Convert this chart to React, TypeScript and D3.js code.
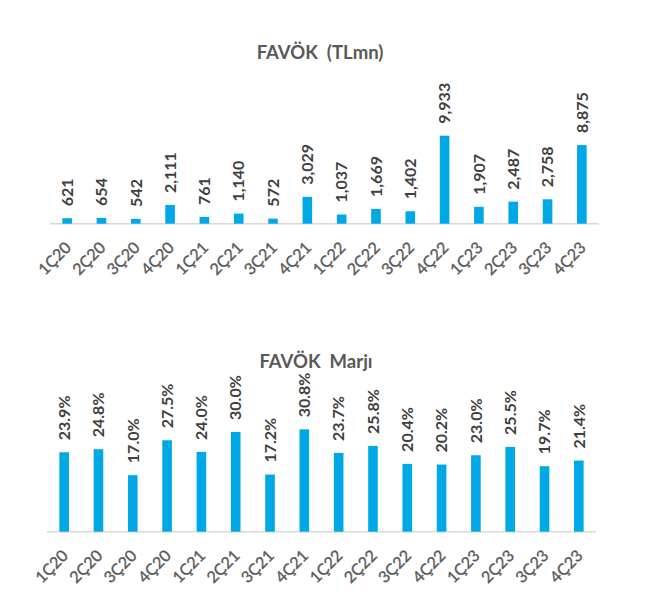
import React from "react";
import * as d3 from "d3";

const quarters = ["1Ç20","2Ç20","3Ç20","4Ç20","1Ç21","2Ç21","3Ç21","4Ç21","1Ç22","2Ç22","3Ç22","4Ç22","1Ç23","2Ç23","3Ç23","4Ç23"];
const favok = [621,654,542,2111,761,1140,572,3029,1037,1669,1402,9933,1907,2487,2758,8875];
const marj = [23.9,24.8,17.0,27.5,24.0,30.0,17.2,30.8,23.7,25.8,20.4,20.2,23.0,25.5,19.7,21.4];
const title1 = "FAVÖK  (TLmn)";
const title2 = "FAVÖK  Marjı";

const BAR = "#00A9E6";
const FONT = "Lato, 'Open Sans', sans-serif";

type PanelProps = {
  values: number[];
  fmt: (v: number) => string;
  x0: number; x1: number; baseY: number; topY: number; maxV: number;
  title: string; titleX: number; titleY: number;
};

function Panel({ values, fmt, x0, x1, baseY, topY, maxV, title, titleX, titleY }: PanelProps) {
  const x = d3.scaleBand<string>().domain(quarters).range([x0, x1]).paddingInner(0.72).paddingOuter(0.36);
  const y = d3.scaleLinear().domain([0, maxV]).range([baseY, topY]);
  const bw = x.bandwidth();
  return (
    <g>
      <text x={titleX} y={titleY} textAnchor="middle" fontFamily={FONT} fontWeight={700} fontSize={18.5} fill="#595959" style={{ whiteSpace: "pre" }}>{title}</text>
      <line x1={x0} x2={x1} y1={baseY} y2={baseY} stroke="#D9D9D9" strokeWidth={1.5} />
      {values.map((v, i) => {
        const q = quarters[i];
        const bx = x(q)!;
        const cx = bx + bw / 2;
        return (
          <g key={q}>
            <rect x={bx} y={y(v)} width={bw} height={baseY - y(v)} fill={BAR} />
            <text transform={`translate(${cx},${y(v) - 12}) rotate(-90)`} dy="0.36em" fontFamily={FONT} fontWeight={700} fontSize={16} fill="#404040">{fmt(v)}</text>
            <text transform={`translate(${cx + 5},${baseY + 25}) rotate(-45)`} textAnchor="end" fontFamily={FONT} fontSize={16} stroke="#595959" strokeWidth={0.35} fill="#595959">{q}</text>
          </g>
        );
      })}
    </g>
  );
}

export default function App() {
  const f1 = d3.format(",");
  const f2 = (v: number) => d3.format(".1f")(v) + "%";
  return (
    <svg width={650} height={615} style={{ position: "absolute", left: 0, top: 0, background: "#fff" }}>
      <rect width={650} height={615} fill="#fff" />
      <Panel values={favok} fmt={f1} x0={50} x1={599} baseY={223.7} topY={135.7} maxV={9933} title={title1} titleX={320} titleY={59} />
      <Panel values={marj} fmt={f2} x0={47} x1={596} baseY={531.7} topY={429.3} maxV={30.8} title={title2} titleX={316} titleY={368} />
    </svg>
  );
}
